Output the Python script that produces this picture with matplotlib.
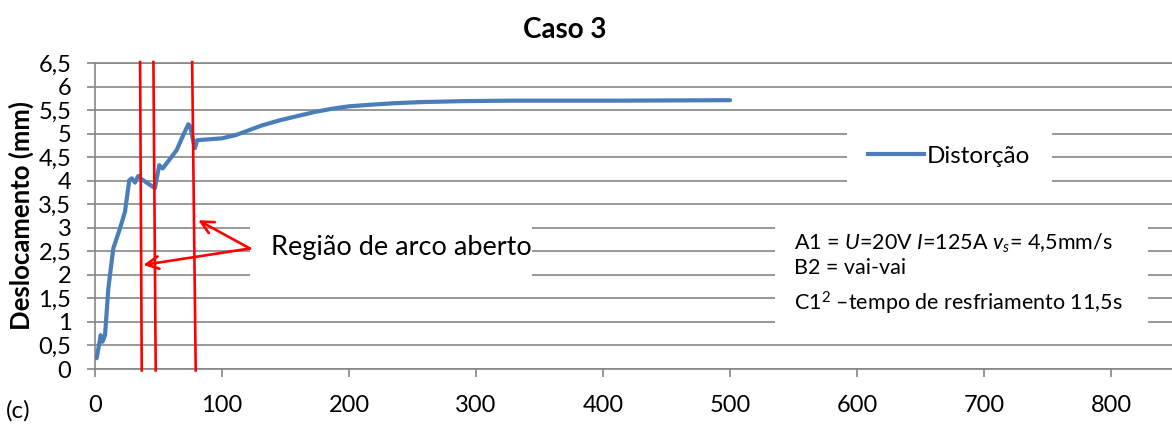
import matplotlib
matplotlib.use("Agg")
import matplotlib.pyplot as plt
from matplotlib.patches import Rectangle
from matplotlib.lines import Line2D

plt.rcParams['font.family'] = ['Lato', 'DejaVu Sans']
plt.rcParams['mathtext.fontset'] = 'custom'
plt.rcParams['mathtext.rm'] = 'Lato'
plt.rcParams['mathtext.it'] = 'Lato:italic'
plt.rcParams['mathtext.bf'] = 'Lato:bold'

# Distortion curve: time (s) vs displacement (mm)
tempo = [1.3, 4.5, 6, 7.9, 10.5, 14.4, 19.7, 23.6, 27, 29, 31.5, 34, 36.8,
         47.2, 50.6, 53.3, 60.4, 64.3, 69.5, 73.5, 75, 78, 78.7, 80.4, 100,
         111, 121, 131, 145, 159, 173, 187, 200, 215, 235, 257, 290, 328,
         412, 500]
deslocamento = [0.23, 0.72, 0.58, 0.72, 1.71, 2.56, 2.99, 3.34, 4.01, 4.05,
                3.96, 4.1, 4.03, 3.84, 4.33, 4.26, 4.51, 4.65, 4.97, 5.2,
                5.15, 4.76, 4.69, 4.86, 4.90, 4.97, 5.07, 5.17, 5.28, 5.37,
                5.46, 5.53, 5.58, 5.61, 5.645, 5.67, 5.69, 5.70, 5.70, 5.71]

# Open-arc region boundaries (x at top, x at bottom)
limites_topo = [35.5, 46.0, 76.5]
limites_base = [36.8, 47.8, 79.3]

x_ticks = [0, 100, 200, 300, 400, 500, 600, 700, 800]
y_ticks = [0, 0.5, 1, 1.5, 2, 2.5, 3, 3.5, 4, 4.5, 5, 5.5, 6, 6.5]
y_labels = ['0', '0,5', '1', '1,5', '2', '2,5', '3', '3,5', '4', '4,5',
            '5', '5,5', '6', '6,5']

BLUE = '#4A7EBB'
GRID = '#868686'

fig = plt.figure(figsize=(11.72, 4.42), dpi=100)
ax = fig.add_axes([95 / 1172, 1 - 369 / 442, 1077 / 1172, 306 / 442])

ax.set_xlim(0, 848)
ax.set_ylim(0, 6.5)
ax.set_xticks(x_ticks)
ax.set_xticklabels([str(v) for v in x_ticks])
ax.set_yticks(y_ticks)
ax.set_yticklabels(y_labels)

for s in ['top', 'right']:
    ax.spines[s].set_visible(False)
for s in ['left', 'bottom']:
    ax.spines[s].set_color(GRID)
    ax.spines[s].set_linewidth(1.2)

ax.tick_params(axis='both', colors=GRID, length=6, width=1.2, labelsize=17,
               labelcolor='black')
ax.tick_params(axis='x', pad=13)
ax.tick_params(axis='y', pad=11)

ax.set_axisbelow(True)
ax.grid(axis='y', color=GRID, linewidth=1.2)
ax.axhline(6.5, color=GRID, linewidth=1.2, zorder=0.5, clip_on=False)

# White boxes behind legend and annotations
boxes = [(0.698, 0.585, 0.191, 0.229),
         (0.144, 0.242, 0.262, 0.294),
         (0.631, 0.111, 0.347, 0.409)]
for (bx, by, bw, bh) in boxes:
    ax.add_patch(Rectangle((bx, by), bw, bh, transform=ax.transAxes,
                           facecolor='white', edgecolor='none', zorder=1))

ax.plot(tempo, deslocamento, color=BLUE, linewidth=3, zorder=3,
        solid_joinstyle='round', solid_capstyle='round')

for xt, xb in zip(limites_topo, limites_base):
    ax.plot([xt, xb], [6.52, -0.03], color='red', linewidth=1.9, zorder=4,
            clip_on=False)

origem = (122, 2.56)
for alvo in [(38, 2.21), (81.3, 3.16)]:
    ax.annotate('', xy=alvo, xytext=origem,
                arrowprops=dict(arrowstyle='->,head_length=0.9,head_width=0.45',
                                color='red', lw=1.9, shrinkA=0, shrinkB=0),
                zorder=5)

ax.text(0.163, 0.397, 'Região de arco aberto', transform=ax.transAxes,
        fontsize=19.5, va='center', ha='left', zorder=6)

ax.legend(handles=[Line2D([], [], color=BLUE, linewidth=3)],
          labels=['Distorção'], loc='center',
          bbox_to_anchor=(0.793, 0.695), frameon=False, fontsize=17.5,
          handlelength=2.3, handletextpad=0.15)

ax.text(0.649, 0.41, 'A1 = $\\mathit{U}$=20V $\\mathit{I}$=125A '
        '$\\mathit{v}_{\\mathit{s}}$= 4,5mm/s',
        transform=ax.transAxes, fontsize=15.5, va='center', ha='left', zorder=6)
ax.text(0.649, 0.33, 'B2 = vai-vai', transform=ax.transAxes, fontsize=15.5,
        va='center', ha='left', zorder=6)
ax.text(0.649, 0.215, 'C1$^{2}$ –tempo de resfriamento 11,5s',
        transform=ax.transAxes, fontsize=15.5, va='center', ha='left', zorder=6)

fig.text(565 / 1172, 1 - 30 / 442, 'Caso 3', fontsize=20, fontweight='bold',
         ha='center', va='center')
fig.text(21 / 1172, 1 - 216 / 442, 'Deslocamento (mm)', fontsize=18.5,
         fontweight='bold', rotation=90, ha='center', va='center')
fig.text(18 / 1172, 1 - 411 / 442, '(c)', fontsize=17.5, ha='center',
         va='center')

fig.savefig('out.png', dpi=100, facecolor='white')
